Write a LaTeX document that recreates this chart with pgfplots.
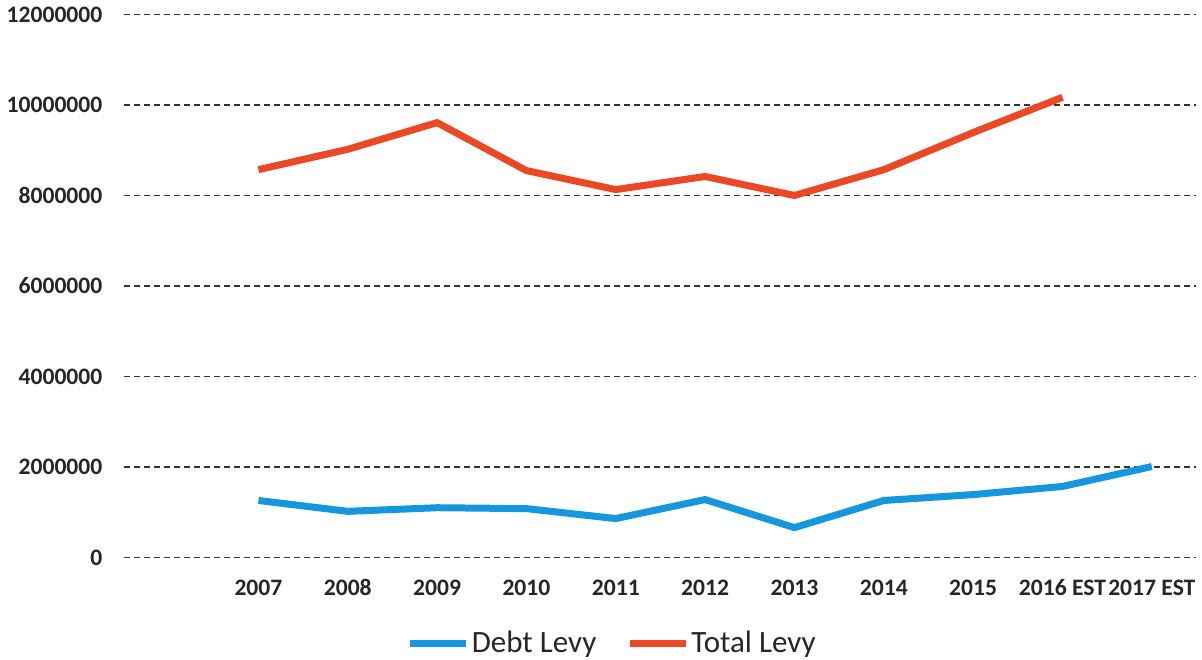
\documentclass[border=0pt]{standalone}
\usepackage{fontspec}
\setmainfont{Carlito}
\usepackage{pgfplots}
\pgfplotsset{compat=1.18}
\definecolor{debtblue}{RGB}{22,150,220}
\definecolor{totalred}{RGB}{235,72,38}
\begin{document}
\begin{tikzpicture}
\begin{axis}[
    scale only axis,
    width=536pt, height=271.5pt,
    xmin=-0.5, xmax=11.5,
    ymin=0, ymax=12000000,
    xtick={1,...,11},
    xticklabels={2007,2008,2009,2010,2011,2012,2013,2014,2015,2016 EST,2017 EST},
    ytick={0,2000000,4000000,6000000,8000000,10000000,12000000},
    scaled y ticks=false,
    /pgf/number format/assume math mode=true,
    yticklabel={\pgfmathprintnumber[fixed,precision=0,set thousands separator={}]{\tick}},
    ticklabel style={font=\fontsize{11.8}{14}\selectfont\bfseries, text=black!85},
    xticklabel style={anchor=base, yshift=-19pt},
    yticklabel style={xshift=-7.5pt},
    major tick length=0pt,
    axis line style={draw=none},
    ymajorgrids=true,
    grid style={black!80, densely dashed, line width=0.6pt},
    legend columns=2,
    legend style={at={(0.455,-0.128)}, anchor=north, draw=none,
        font=\fontsize{15.5}{18}\selectfont, text=black!85,
        /tikz/every even column/.append style={column sep=14pt},
        nodes={inner xsep=1pt},
        inner sep=0pt},
    legend cell align=left,
    legend image code/.code={\draw[#1, line width=3.5pt] (0pt,0pt) -- (28pt,0pt);},
]
\addplot[debtblue, line width=3.5pt] coordinates {
    (1,1260000) (2,1020000) (3,1100000) (4,1080000) (5,860000) (6,1280000)
    (7,660000) (8,1260000) (9,1390000) (10,1570000) (11,2010000)
};
\addlegendentry{Debt Levy}
\addplot[totalred, line width=3.5pt] coordinates {
    (1,8570000) (2,9020000) (3,9610000) (4,8550000) (5,8130000) (6,8420000)
    (7,8000000) (8,8570000) (9,9390000) (10,10170000)
};
\addlegendentry{Total Levy}
\end{axis}
\end{tikzpicture}
\end{document}
